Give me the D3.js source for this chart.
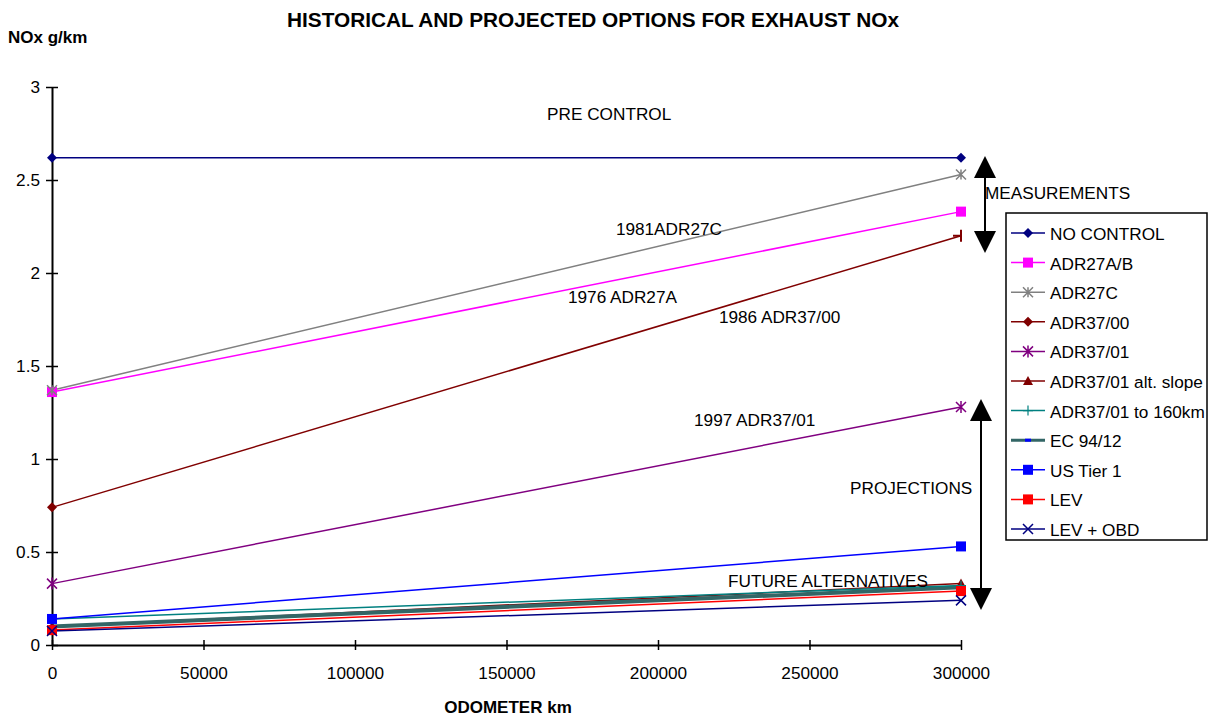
<!DOCTYPE html>
<html><head><meta charset="utf-8">
<script src="https://cdn.jsdelivr.net/npm/d3@7"></script>
<style>body{margin:0;background:#fff;} text{font-family:"Liberation Sans",Arial,sans-serif;}</style>
</head><body><svg id="c" width="1220" height="717"></svg>
<script>
const xTicks = [0,50000,100000,150000,200000,250000,300000];
const yTicks = [0,0.5,1,1.5,2,2.5,3];
const seriesNames = ["NO CONTROL","ADR27A/B","ADR27C","ADR37/00","ADR37/01","ADR37/01 alt. slope","ADR37/01 to 160km","EC 94/12","US Tier 1","LEV","LEV + OBD"];
const odometer = [0,300000];
const noControl = [2.62,2.62];
const adr27ab = [1.36,2.33];
const adr27c = [1.37,2.53];
const adr3700 = [0.74,2.2];
const adr3701 = [0.33,1.28];
const adr3701Alt = [0.1,0.33];
const adr3701To160 = [0.14,0.32];
const ec9412 = [0.1,0.31];
const usTier1 = [0.14,0.53];
const lev = [0.08,0.29];
const levObd = [0.075,0.24];
const colors = ["#000080","#FF00FF","#808080","#800000","#800080","#800000","#008080","#336666","#0000FF","#FF0000","#000080"];
const markers = ["diamond","square","xstar","diamond","star","triangle","plus","dash","square","square","x"];
const allValues = [noControl,adr27ab,adr27c,adr3700,adr3701,adr3701Alt,adr3701To160,ec9412,usTier1,lev,levObd];
const annotations = [
 {t:"PRE CONTROL",x:163400,y:2.823},
 {t:"1981ADR27C",x:186100,y:2.204},
 {t:"1976 ADR27A",x:170300,y:1.839},
 {t:"1986 ADR37/00",x:220100,y:1.731},
 {t:"1997 ADR37/01",x:211900,y:1.177},
 {t:"PROJECTIONS",x:263400,y:0.812},
 {t:"FUTURE ALTERNATIVES",x:223100,y:0.312}
];

const FS = 17.2;
const svg = d3.select("#c");
const x = d3.scaleLinear().domain([0,300000]).range([52,961]);
const y = d3.scaleLinear().domain([0,3]).range([645,87]);

svg.append("text").attr("x",593).attr("y",27).attr("text-anchor","middle").attr("font-weight","bold").attr("font-size",20).attr("textLength",612).attr("lengthAdjust","spacingAndGlyphs").text("HISTORICAL AND PROJECTED OPTIONS FOR EXHAUST NOx");
svg.append("text").attr("x",8).attr("y",43).attr("font-weight","bold").attr("font-size",17).text("NOx g/km");
svg.append("text").attr("x",508).attr("y",713).attr("text-anchor","middle").attr("font-weight","bold").attr("font-size",17).text("ODOMETER km");

const yAxis = d3.axisLeft(y).tickValues(yTicks).tickFormat(d=>String(d)).tickSizeInner(6).tickSizeOuter(0);
const gy = svg.append("g").attr("transform","translate(52,0)").call(yAxis);
gy.selectAll(".tick line").attr("x1",6).attr("x2",-6);
gy.selectAll("text").attr("font-size",FS).attr("x",-12).attr("fill","#000").style("font-family","Liberation Sans, Arial");
gy.select(".domain").attr("stroke","#000").attr("stroke-width",2);
const xAxis = d3.axisBottom(x).tickValues(xTicks).tickFormat(d=>String(d)).tickSizeInner(6).tickSizeOuter(0);
const gx = svg.append("g").attr("transform","translate(0,645)").call(xAxis);
gx.selectAll(".tick line").attr("y1",-5).attr("y2",5);
gx.selectAll("text").attr("font-size",FS).attr("y",22).attr("fill","#000").style("font-family","Liberation Sans, Arial");
gx.select(".domain").attr("stroke","#000").attr("stroke-width",2);
svg.selectAll(".tick line").attr("stroke","#000").attr("stroke-width",1.5);

function marker(g,type,cx,cy,col,s){
  s=s||1;
  if(type==="diamond") g.append("path").attr("d",`M${cx},${cy-5*s}L${cx+5*s},${cy}L${cx},${cy+5*s}L${cx-5*s},${cy}Z`).attr("fill",col);
  else if(type==="square") g.append("rect").attr("x",cx-5*s).attr("y",cy-5*s).attr("width",10*s).attr("height",10*s).attr("fill",col);
  else if(type==="triangle") g.append("path").attr("d",`M${cx},${cy-5*s}L${cx+5*s},${cy+4*s}L${cx-5*s},${cy+4*s}Z`).attr("fill",col);
  else if(type==="x"){g.append("path").attr("d",`M${cx-5},${cy-5}L${cx+5},${cy+5}M${cx+5},${cy-5}L${cx-5},${cy+5}`).attr("stroke",col).attr("stroke-width",1.5);}
  else if(type==="xstar"){g.append("path").attr("d",`M${cx-5},${cy-5}L${cx+5},${cy+5}M${cx+5},${cy-5}L${cx-5},${cy+5}M${cx},${cy-5}L${cx},${cy+5}`).attr("stroke",col).attr("stroke-width",1.5);}
  else if(type==="star"){g.append("path").attr("d",`M${cx-5},${cy-5}L${cx+5},${cy+5}M${cx+5},${cy-5}L${cx-5},${cy+5}M${cx},${cy-6}L${cx},${cy+6}`).attr("stroke",col).attr("stroke-width",1.5);}
  else if(type==="plus"){g.append("path").attr("d",`M${cx-5},${cy}L${cx+5},${cy}M${cx},${cy-5}L${cx},${cy+5}`).attr("stroke",col).attr("stroke-width",1.2);}
  else if(type==="dash"){g.append("rect").attr("x",cx-3).attr("y",cy-1.5).attr("width",6).attr("height",3).attr("fill","#0000FF");}
}

const line = d3.line().x(d=>x(d[0])).y(d=>y(d[1]));
const drawOrder = [0,1,2,3,4,5,7,6,9,10,8];
drawOrder.forEach(i=>{
  const pts = odometer.map((o,k)=>[o,allValues[i][k]]);
  svg.append("path").datum(pts).attr("d",line).attr("fill","none").attr("stroke",colors[i]).attr("stroke-width",i===7?4:1.5);
});
drawOrder.forEach(i=>{
  const g = svg.append("g");
  odometer.forEach((o,k)=>{
    if(i===3 && k===1){
      g.append("path").attr("d",`M${x(o)-8},${y(allValues[i][k])}L${x(o)},${y(allValues[i][k])}M${x(o)},${y(allValues[i][k])-6}L${x(o)},${y(allValues[i][k])+6}`).attr("stroke",colors[i]).attr("stroke-width",2);
    } else marker(g,markers[i],x(o),y(allValues[i][k]),colors[i]);
  });
});

annotations.forEach(a=>{
  svg.append("text").attr("x",x(a.x)).attr("y",y(a.y)).attr("font-size",FS).text(a.t);
});
svg.append("text").attr("x",985).attr("y",199).attr("font-size",FS).text("MEASUREMENTS");

function dArrow(xp,y1,y2){
  svg.append("line").attr("x1",xp).attr("x2",xp).attr("y1",y1+20).attr("y2",y2-20).attr("stroke","#000").attr("stroke-width",2);
  svg.append("path").attr("d",`M${xp},${y1}L${xp+11},${y1+22}L${xp-11},${y1+22}Z`).attr("fill","#000");
  svg.append("path").attr("d",`M${xp},${y2}L${xp+11},${y2-22}L${xp-11},${y2-22}Z`).attr("fill","#000");
}
dArrow(985,156,253);
dArrow(981,399,610);

const lg = svg.append("g");
lg.append("rect").attr("x",1006).attr("y",213).attr("width",201).attr("height",327).attr("fill","#fff").attr("stroke","#000").attr("stroke-width",1.5);
seriesNames.forEach((n,i)=>{
  const ly = 233 + i*29.6;
  lg.append("line").attr("x1",1011).attr("x2",1045).attr("y1",ly).attr("y2",ly).attr("stroke",colors[i]).attr("stroke-width",i===7?3:1.5);
  marker(lg,markers[i],1028,ly,colors[i]);
  lg.append("text").attr("x",1050).attr("y",ly+7).attr("font-size",FS).text(n);
});
</script></body></html>
